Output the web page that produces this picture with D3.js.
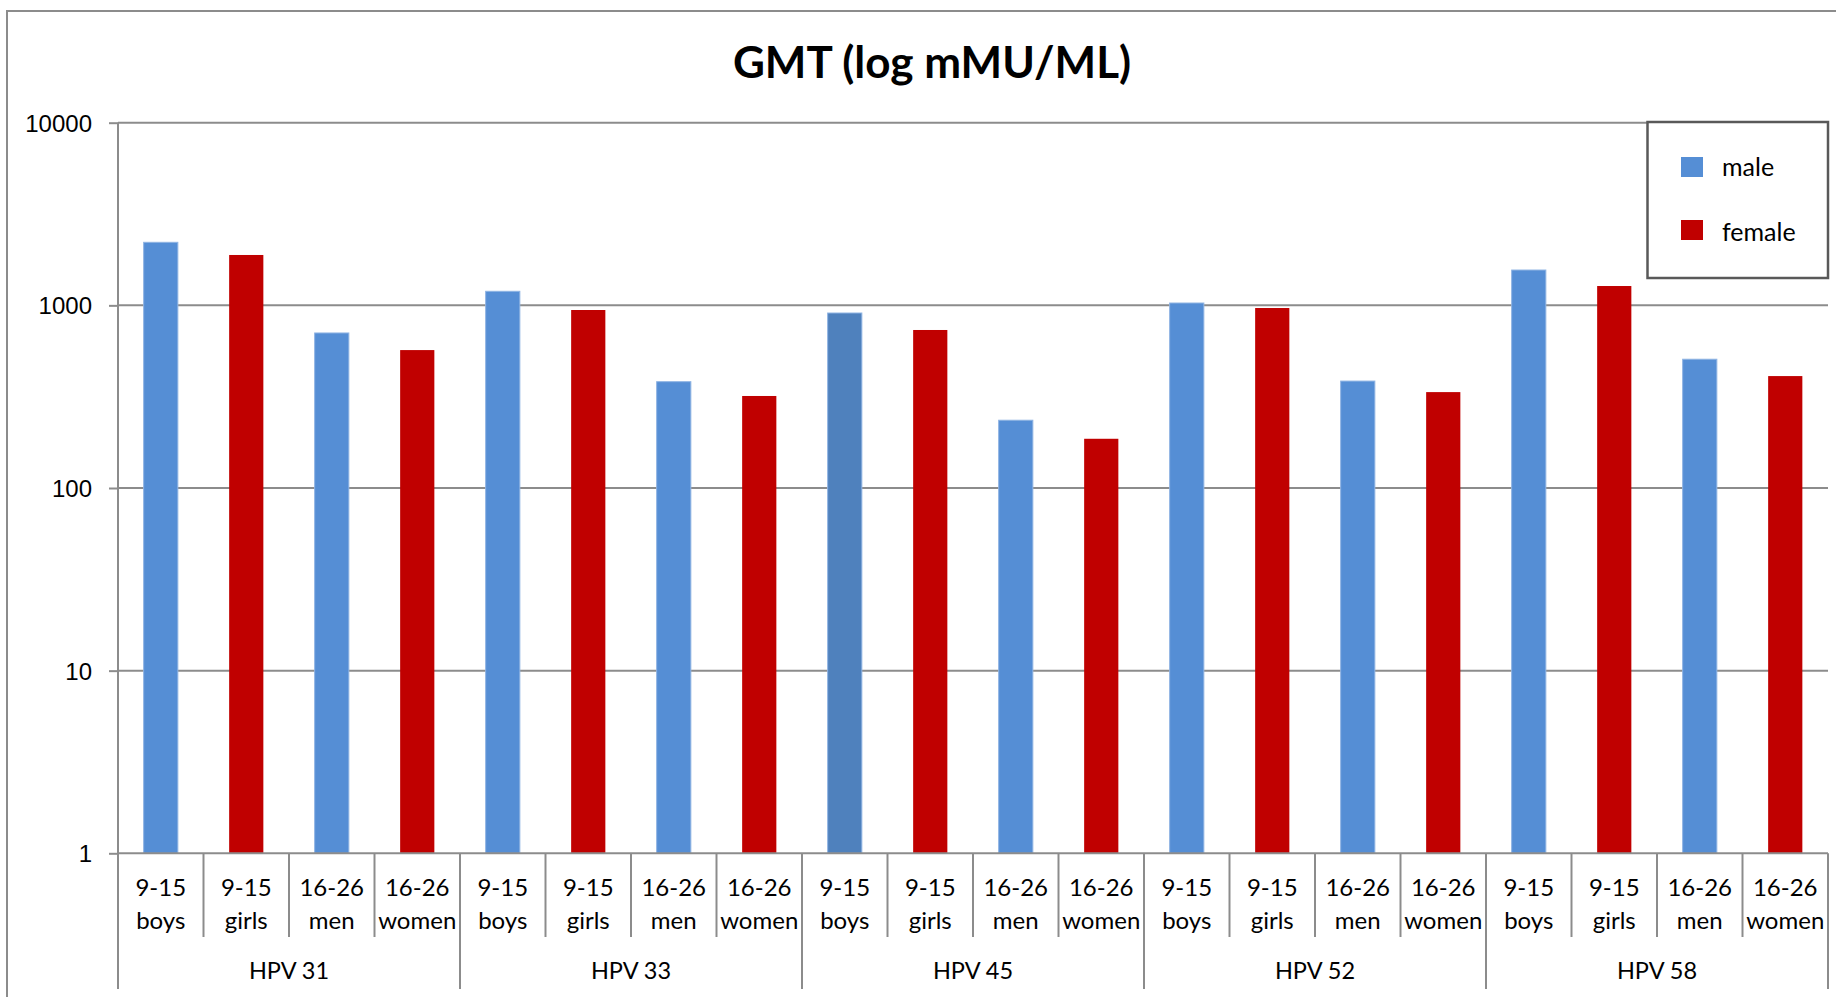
<!DOCTYPE html>
<html lang="en">
<head>
    <meta charset="UTF-8">
    <title>GMT (log mMU/ML)</title>
    <script src="https://d3js.org/d3.v7.min.js"></script>
    <style>
        body { margin: 0; background: #fff; }
        svg { display: block; font-family: Lato, "Open Sans", Arial, sans-serif; }
        .grid line { stroke: #8c8c8c; stroke-width: 2px; }
        .axis path, .axis line { stroke: #8c8c8c; stroke-width: 2px; }
        .axis text { font-size: 24px; fill: #000; }
        .cat text { font-size: 24px; fill: #000; text-anchor: middle; }
        .cat text.group { font-size: 23.5px; }
        .legend text { font-size: 25px; fill: #000; }
    </style>
</head>
<body>
<svg width="1836" height="997"></svg>
<script>
    // data
    const groups = ["HPV 31", "HPV 33", "HPV 45", "HPV 52", "HPV 58"];
    const subLine1 = ["9-15", "9-15", "16-26", "16-26"];
    const subLine2 = ["boys", "girls", "men", "women"];
    const subSex = ["male", "female", "male", "female"];
    const hpv31 = [2214, 1887, 706, 569];
    const hpv33 = [1194, 943, 382, 319];
    const hpv45 = [908, 733, 235, 186];
    const hpv52 = [1030, 967, 385, 335];
    const hpv58 = [1561, 1276, 507, 410];
    const yTicks = [1, 10, 100, 1000, 10000];
    const legendItems = ["male", "female"];

    const seriesValues = [hpv31, hpv33, hpv45, hpv52, hpv58];
    const colors = { male: "#558ed5", female: "#c00000" };

    const rows = [];
    groups.forEach((g, gi) => {
        seriesValues[gi].forEach((v, si) => {
            rows.push({ key: g + "|" + si, group: g, gi, si, value: v, sex: subSex[si] });
        });
    });

    const svg = d3.select("svg");
    const plotLeft = 118, plotRight = 1828, plotTop = 122.7, plotBottom = 853.3;

    // outer chart border (left and top only, the rest is cropped)
    svg.append("path")
        .attr("d", "M7,997 L7,11 L1836,11")
        .attr("fill", "none")
        .attr("stroke", "#8c8c8c")
        .attr("stroke-width", 2);

    svg.append("text")
        .attr("x", 932).attr("y", 78)
        .attr("text-anchor", "middle")
        .attr("font-size", 44)
        .attr("font-weight", "bold")
        .text("GMT (log mMU/ML)");

    const x = d3.scaleBand()
        .domain(rows.map(d => d.key))
        .range([plotLeft, plotRight])
        .paddingInner(0.6)
        .paddingOuter(0.3);
    const step = x.step();

    const y = d3.scaleLog().domain([1, 10000]).range([plotBottom, plotTop]);

    // gridlines
    svg.append("g").attr("class", "grid")
        .selectAll("line").data(yTicks.slice(1)).join("line")
        .attr("x1", plotLeft).attr("x2", plotRight)
        .attr("y1", d => y(d)).attr("y2", d => y(d));

    // bars
    svg.append("g").selectAll("rect").data(rows).join("rect")
        .attr("x", d => x(d.key))
        .attr("width", x.bandwidth())
        .attr("y", d => y(d.value))
        .attr("height", d => y(1) - y(d.value))
        .attr("fill", d => (d.gi === 2 && d.si === 0) ? "#4f81bd" : colors[d.sex])
        .attr("stroke", d => d.sex === "male" ? "#8fb4e3" : "none")
        .attr("stroke-width", d => d.sex === "male" ? 1 : 0);

    // y axis
    const yAxis = svg.append("g").attr("class", "axis")
        .attr("transform", `translate(${plotLeft},0)`)
        .call(d3.axisLeft(y).tickValues(yTicks).tickFormat(d3.format("d")).tickSize(9).tickPadding(17));
    yAxis.select(".domain").remove();
    yAxis.selectAll("text").attr("dy", "0.36em");
    svg.append("line")
        .attr("x1", plotLeft).attr("x2", plotLeft).attr("y1", plotTop).attr("y2", 989)
        .attr("stroke", "#8c8c8c").attr("stroke-width", 2);

    // x axis baseline
    svg.append("line")
        .attr("x1", plotLeft).attr("x2", plotRight).attr("y1", plotBottom).attr("y2", plotBottom)
        .attr("stroke", "#8c8c8c").attr("stroke-width", 2);

    // category separators, long ones between groups
    const bounds = d3.range(1, rows.length + 1).map(i => plotLeft + i * step);
    svg.append("g").selectAll("line").data(bounds).join("line")
        .attr("x1", d => d).attr("x2", d => d)
        .attr("y1", plotBottom)
        .attr("y2", (d, i) => (i + 1) % 4 === 0 ? 989 : 937)
        .attr("stroke", "#8c8c8c").attr("stroke-width", 2);

    // category labels
    const cat = svg.append("g").attr("class", "cat");
    const labels = cat.selectAll("text.sub").data(rows).join("text")
        .attr("class", "sub");
    labels.append("tspan").attr("x", d => x(d.key) + x.bandwidth() / 2).attr("y", 896).text(d => subLine1[d.si]);
    labels.append("tspan").attr("x", d => x(d.key) + x.bandwidth() / 2).attr("y", 929).text(d => subLine2[d.si]);

    cat.selectAll("text.group").data(groups).join("text")
        .attr("class", "group")
        .attr("x", (d, i) => plotLeft + (i * 4 + 2) * step)
        .attr("y", 979)
        .text(d => d);

    // legend
    const legend = svg.append("g").attr("class", "legend");
    legend.append("rect")
        .attr("x", 1647.5).attr("y", 122).attr("width", 180.5).attr("height", 156)
        .attr("fill", "#fff").attr("stroke", "#595959").attr("stroke-width", 2.5);
    const li = legend.selectAll("g.item").data(legendItems).join("g")
        .attr("class", "item")
        .attr("transform", (d, i) => `translate(1681,${157 + i * 63})`);
    li.append("rect").attr("width", 22).attr("height", 20).attr("fill", d => colors[d]);
    li.append("text").attr("x", 41).attr("y", (d, i) => 19 + i * 2).text(d => d);
</script>
</body>
</html>
